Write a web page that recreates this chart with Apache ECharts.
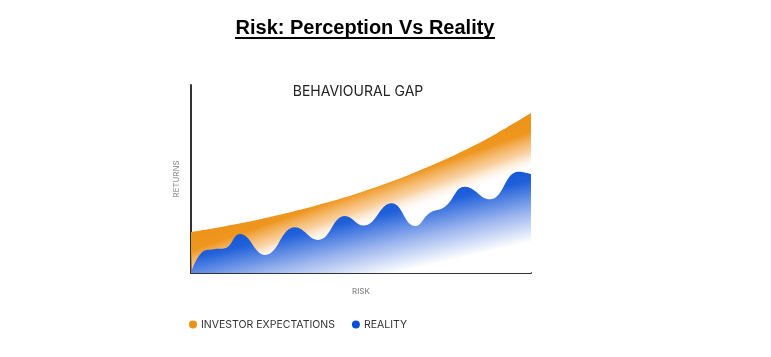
<!DOCTYPE html>
<html><head><meta charset="utf-8">
<script src="https://cdn.jsdelivr.net/npm/echarts@6/dist/echarts.min.js"></script>
<style>html,body{margin:0;padding:0;background:#fff}#c{width:771px;height:357px}</style>
</head><body><div id="c"></div>
<script>
// Data (x: risk 0-100, y: returns 0-100)
const expectationX = [0, 10, 20, 30, 40, 50, 60, 70, 80, 90, 100];
const expectationY = [21.8, 24.9, 28.5, 32.7, 37.5, 43.0, 49.3, 56.6, 64.9, 74.4, 85.1];
const realityX = [0, 3.1, 6.6, 10, 14.4, 21.8, 30.6, 37.4, 45.3, 50.7, 59, 65.9, 70.3, 74.7, 80.6, 87.9, 96.3, 100];
const realityY = [0, 10.8, 12.6, 13.1, 20.7, 9.6, 24.3, 17.6, 30.3, 25.2, 37.1, 25.0, 32.1, 35.3, 45.9, 39.2, 53.9, 52.7];
const seriesNames = ['INVESTOR EXPECTATIONS', 'REALITY'];
const chartTitle = 'Risk: Perception Vs Reality';
const chartSubtitle = 'BEHAVIOURAL GAP';
const xName = 'RISK';
const yName = 'RETURNS';

const orange = '#ec9218';
const blue = '#0a4fd6';
const font = 'Inter, "Noto Sans", sans-serif';

const chart = echarts.init(document.getElementById('c'), null, {renderer: 'canvas'});
const zip = (xs, ys) => xs.map((x, i) => [x, ys[i]]);

function buildOption(orangeFill, blueFill) {
  return {
    animation: false,
    backgroundColor: '#fff',
    grid: {left: 191, right: 240, top: 85, bottom: 84},
    graphic: [
      {type: 'text', x: 365, y: 28, style: {text: chartTitle, font: 'bold 20px "Liberation Sans", Arial, sans-serif', fill: '#000', align: 'center', verticalAlign: 'middle'}},
      {type: 'rect', shape: {x: 235, y: 37, width: 260, height: 2}, style: {fill: '#000'}},
      {type: 'text', x: 358, y: 92, style: {text: chartSubtitle, font: '400 14px ' + font, fill: '#222', align: 'center', verticalAlign: 'middle'}}
    ],
    legend: {
      left: 184, top: 314, itemWidth: 8, itemHeight: 8, itemGap: 17, icon: 'circle',
      textStyle: {fontFamily: font, fontSize: 10.5, color: '#333', fontWeight: 400, padding: [0, 0, 0, -1]},
      data: seriesNames
    },
    xAxis: {
      type: 'value', min: 0, max: 100,
      name: xName, nameLocation: 'middle', nameGap: 15,
      nameTextStyle: {fontFamily: font, fontSize: 8, color: '#888', fontWeight: 500},
      axisLine: {show: true, lineStyle: {color: '#333', width: 2}},
      axisTick: {show: false}, axisLabel: {show: false}, splitLine: {show: false}
    },
    yAxis: {
      type: 'value', min: 0, max: 100,
      name: yName, nameLocation: 'middle', nameGap: 10, nameRotate: 90,
      nameTextStyle: {fontFamily: font, fontSize: 8, color: '#999', fontWeight: 500},
      axisLine: {show: true, lineStyle: {color: '#333', width: 2}},
      axisTick: {show: false}, axisLabel: {show: false}, splitLine: {show: false}
    },
    series: [
      {
        name: seriesNames[0], type: 'line', smooth: 0.4, showSymbol: false,
        data: zip(expectationX, expectationY), itemStyle: {color: orange},
        lineStyle: {width: 0}, areaStyle: {color: orangeFill || orange, opacity: 1}, z: 2
      },
      {
        name: seriesNames[1], type: 'line', smooth: 0.45, showSymbol: false,
        data: zip(realityX, realityY), itemStyle: {color: blue},
        lineStyle: {width: 0}, areaStyle: {color: blueFill || blue, opacity: 1}, z: 3
      }
    ]
  };
}

chart.setOption(buildOption());

// Gradients running perpendicular to each curve's overall trend, so the fade follows the curve
function perpGradient(p0, p1, offsetPx, lengthPx, stops) {
  const dx = p1[0] - p0[0], dy = p1[1] - p0[1];
  const len = Math.hypot(dx, dy);
  let nx = -dy / len, ny = dx / len;
  if (ny < 0) { nx = -nx; ny = -ny; }
  const sx = p0[0] + nx * offsetPx, sy = p0[1] + ny * offsetPx;
  return new echarts.graphic.LinearGradient(sx, sy, sx + nx * lengthPx, sy + ny * lengthPx, stops, true);
}
const n = expectationX.length - 1;
const oA = chart.convertToPixel({gridIndex: 0}, [expectationX[0], expectationY[0]]);
const oB = chart.convertToPixel({gridIndex: 0}, [expectationX[n], expectationY[n]]);
const orangeFill = perpGradient(oA, oB, 0, 80, [
  {offset: 0, color: 'rgba(236,146,24,1)'},
  {offset: 0.22, color: 'rgba(238,150,30,1)'},
  {offset: 0.45, color: 'rgba(244,172,85,0.55)'},
  {offset: 0.68, color: 'rgba(255,255,255,0)'},
  {offset: 1, color: 'rgba(255,255,255,0)'}
]);
const bA = chart.convertToPixel({gridIndex: 0}, [0, 12]);
const bB = chart.convertToPixel({gridIndex: 0}, [100, 53]);
const blueFill = perpGradient(bA, bB, -18, 100, [
  {offset: 0, color: '#0a4fd6'},
  {offset: 0.25, color: '#2060da'},
  {offset: 0.55, color: '#9ab4ee'},
  {offset: 0.85, color: '#ffffff'},
  {offset: 1, color: '#ffffff'}
]);
chart.setOption(buildOption(orangeFill, blueFill));
</script>
</body></html>
